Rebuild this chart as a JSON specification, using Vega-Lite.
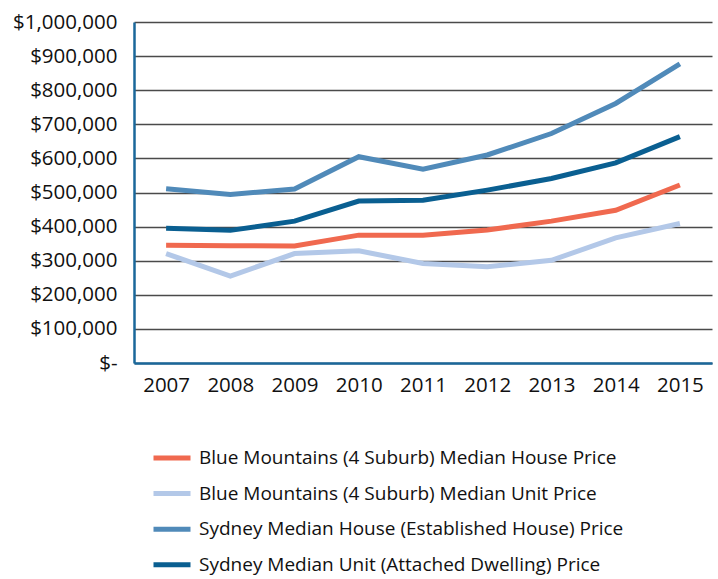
{
  "$schema": "https://vega.github.io/schema/vega-lite/v6.json",
  "width": 578,
  "height": 341,
  "autosize": "none",
  "padding": {"left": 134, "top": 22, "right": 6, "bottom": 216},
  "background": "white",
  "config": {
    "view": {"stroke": null},
    "font": "Open Sans"
  },
  "data": {
    "values": [
      {"year": "2007", "series": "Blue Mountains (4 Suburb) Median House Price", "price": 345000},
      {"year": "2008", "series": "Blue Mountains (4 Suburb) Median House Price", "price": 344000},
      {"year": "2009", "series": "Blue Mountains (4 Suburb) Median House Price", "price": 343000},
      {"year": "2010", "series": "Blue Mountains (4 Suburb) Median House Price", "price": 375000},
      {"year": "2011", "series": "Blue Mountains (4 Suburb) Median House Price", "price": 375000},
      {"year": "2012", "series": "Blue Mountains (4 Suburb) Median House Price", "price": 390000},
      {"year": "2013", "series": "Blue Mountains (4 Suburb) Median House Price", "price": 416000},
      {"year": "2014", "series": "Blue Mountains (4 Suburb) Median House Price", "price": 448000},
      {"year": "2015", "series": "Blue Mountains (4 Suburb) Median House Price", "price": 522000},
      {"year": "2007", "series": "Blue Mountains (4 Suburb) Median Unit Price", "price": 321000},
      {"year": "2008", "series": "Blue Mountains (4 Suburb) Median Unit Price", "price": 255000},
      {"year": "2009", "series": "Blue Mountains (4 Suburb) Median Unit Price", "price": 321000},
      {"year": "2010", "series": "Blue Mountains (4 Suburb) Median Unit Price", "price": 329000},
      {"year": "2011", "series": "Blue Mountains (4 Suburb) Median Unit Price", "price": 292000},
      {"year": "2012", "series": "Blue Mountains (4 Suburb) Median Unit Price", "price": 282000},
      {"year": "2013", "series": "Blue Mountains (4 Suburb) Median Unit Price", "price": 301000},
      {"year": "2014", "series": "Blue Mountains (4 Suburb) Median Unit Price", "price": 367000},
      {"year": "2015", "series": "Blue Mountains (4 Suburb) Median Unit Price", "price": 409000},
      {"year": "2007", "series": "Sydney Median House (Established House) Price", "price": 511000},
      {"year": "2008", "series": "Sydney Median House (Established House) Price", "price": 494000},
      {"year": "2009", "series": "Sydney Median House (Established House) Price", "price": 510000},
      {"year": "2010", "series": "Sydney Median House (Established House) Price", "price": 605000},
      {"year": "2011", "series": "Sydney Median House (Established House) Price", "price": 568000},
      {"year": "2012", "series": "Sydney Median House (Established House) Price", "price": 610000},
      {"year": "2013", "series": "Sydney Median House (Established House) Price", "price": 673000},
      {"year": "2014", "series": "Sydney Median House (Established House) Price", "price": 761000},
      {"year": "2015", "series": "Sydney Median House (Established House) Price", "price": 877000},
      {"year": "2007", "series": "Sydney Median Unit (Attached Dwelling) Price", "price": 395000},
      {"year": "2008", "series": "Sydney Median Unit (Attached Dwelling) Price", "price": 389000},
      {"year": "2009", "series": "Sydney Median Unit (Attached Dwelling) Price", "price": 416000},
      {"year": "2010", "series": "Sydney Median Unit (Attached Dwelling) Price", "price": 475000},
      {"year": "2011", "series": "Sydney Median Unit (Attached Dwelling) Price", "price": 477000},
      {"year": "2012", "series": "Sydney Median Unit (Attached Dwelling) Price", "price": 507000},
      {"year": "2013", "series": "Sydney Median Unit (Attached Dwelling) Price", "price": 541000},
      {"year": "2014", "series": "Sydney Median Unit (Attached Dwelling) Price", "price": 587000},
      {"year": "2015", "series": "Sydney Median Unit (Attached Dwelling) Price", "price": 664000}
    ]
  },
  "mark": {"type": "line", "strokeWidth": 5, "strokeCap": "butt", "strokeJoin": "miter"},
  "encoding": {
    "x": {
      "field": "year",
      "type": "ordinal",
      "scale": {"type": "point", "padding": 0.5},
      "axis": {
        "title": null,
        "labelAngle": 0,
        "labelFontSize": 20.5,
        "labelColor": "#111111",
        "labelPadding": 12,
        "ticks": false,
        "grid": false,
        "domainColor": "#1a679a",
        "domainWidth": 2.5
      }
    },
    "y": {
      "field": "price",
      "type": "quantitative",
      "scale": {"domain": [0, 1000000], "nice": false},
      "axis": {
        "title": null,
        "values": [0, 100000, 200000, 300000, 400000, 500000, 600000, 700000, 800000, 900000, 1000000],
        "labelExpr": "datum.value == 0 ? '$-' : '$' + format(datum.value, ',')",
        "labelFontSize": 20.5,
        "labelColor": "#111111",
        "labelPadding": 17,
        "ticks": false,
        "grid": true,
        "gridColor": "#4a4a4a",
        "gridWidth": 1.5,
        "domainColor": "#1a679a",
        "domainWidth": 2.5
      }
    },
    "color": {
      "field": "series",
      "type": "nominal",
      "scale": {
        "domain": [
          "Blue Mountains (4 Suburb) Median House Price",
          "Blue Mountains (4 Suburb) Median Unit Price",
          "Sydney Median House (Established House) Price",
          "Sydney Median Unit (Attached Dwelling) Price"
        ],
        "range": ["#f0694f", "#b3c8e8", "#508ab9", "#0a5f91"]
      },
      "legend": {
        "title": null,
        "orient": "none",
        "legendX": 17,
        "legendY": 415,
        "direction": "vertical",
        "symbolType": "stroke",
        "symbolSize": 1369,
        "symbolStrokeWidth": 5,
        "labelFontSize": 19,
        "labelColor": "#111111",
        "labelOffset": 6,
        "labelLimit": 600,
        "rowPadding": 4.6
      }
    }
  }
}
